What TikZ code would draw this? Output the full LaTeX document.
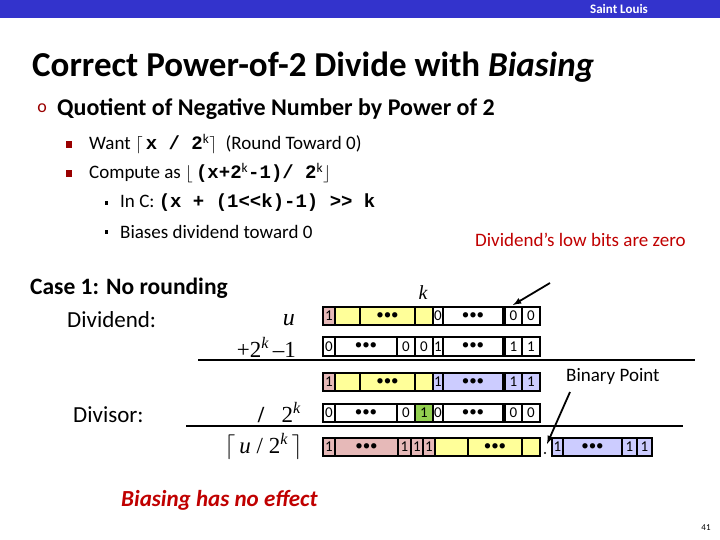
\documentclass[tikz,border=0pt]{standalone}
\usepackage{fontspec}
\setmainfont{Carlito}
\newfontfamily\monof{Liberation Mono}
\newfontfamily\serf{Liberation Serif}
\begin{document}
\definecolor{hdr}{RGB}{51,51,204}
\definecolor{pk}{RGB}{230,185,184}
\definecolor{yl}{RGB}{255,255,153}
\definecolor{bl}{RGB}{204,204,255}
\definecolor{gr}{RGB}{146,208,80}
\definecolor{dred}{RGB}{192,0,0}
\definecolor{bul}{RGB}{153,0,0}
\newcommand\bc[6]{\draw[cellb,fill=#5] (#1,#3) rectangle node[celltxt]{#6} (#2,#4);}
\begin{tikzpicture}[x=1pt,y=-1pt,
  cellb/.style={line width=1.8pt},
  celltxt/.style={font=\fontsize{15}{15}\selectfont, inner sep=0pt},
  lbl/.style={inner sep=0pt, anchor=west},
  rule/.style={line width=2.2pt}]
\useasboundingbox (0,0) rectangle (720,540);
\fill[hdr] (0,0) rectangle (720,18);
\node[inner sep=0pt,text=white,font=\bfseries\fontsize{13}{13}\selectfont] (hdrt) at (619,8.5) {Saint Louis};
\node[lbl,font=\bfseries\fontsize{35}{35}\selectfont] (title) at (32,67) {Correct Power-of-2 Divide with \textit{Biasing}};
\node[inner sep=0pt,text=bul,font=\fontsize{18}{18}\selectfont] (b0) at (42,108) {o};
\node[lbl,font=\bfseries\fontsize{24}{24}\selectfont] (q) at (57,109) {Quotient of Negative Number by Power of 2};
\fill[bul] (66,141) rectangle (72,148);
\fill[bul] (66,170) rectangle (72,177);
\node[lbl,font=\fontsize{19}{19}\selectfont] (w) at (89,144) {Want $\lceil$\,{\monof\bfseries x / 2\textsuperscript{\normalfont k}}$\rceil$ \ (Round Toward 0)};
\node[lbl,font=\fontsize{19}{19}\selectfont] (c) at (89,173) {Compute as $\lfloor$\,{\monof\bfseries (x+2\textsuperscript{\normalfont k}-1)/ 2\textsuperscript{\normalfont k}}$\rfloor$};
\fill (105,201) rectangle (108,205);
\fill (105,230) rectangle (108,234);
\node[lbl,font=\fontsize{19}{19}\selectfont] (ic) at (120,203) {In C: {\monof\bfseries (x + (1<<k)-1) >> k}};
\node[lbl,font=\fontsize{19}{19}\selectfont] (bd) at (120,232) {Biases dividend toward 0};
\node[lbl,text=dred,font=\fontsize{19}{19}\selectfont] (low) at (475,240) {Dividend’s low bits are zero};
\node[lbl,font=\bfseries\fontsize{23.5}{23.5}\selectfont] (case) at (30,288) {Case 1: No rounding};
\node[lbl,font=\fontsize{23}{23}\selectfont] (dvd) at (67,320) {Dividend:};
\node[lbl,font=\fontsize{23}{23}\selectfont] (dvs) at (73,415) {Divisor:};
\node[inner sep=0pt,anchor=east,font=\serf\itshape\fontsize{24}{24}\selectfont] (u) at (295,320) {u};
\node[inner sep=0pt,anchor=east,font=\serf\fontsize{23}{23}\selectfont] (p2k) at (296,347) {+2\textsuperscript{\itshape k}\,–1};
\node[inner sep=0pt,anchor=east,font=\serf\fontsize{23}{23}\selectfont] (d2k) at (301,413) {\textbf{/}\ \ \ 2\textsuperscript{\itshape k}};
\node[inner sep=0pt,anchor=east,font=\serf\fontsize{23}{23}\selectfont] (res) at (303,447) {$\lceil$\,\textit{u} / 2\textsuperscript{\itshape k}\,$\rceil$};
\node[inner sep=0pt,font=\serf\itshape\fontsize{20}{20}\selectfont] (k) at (423,293) {k};
\draw[rule] (198,360) -- (695,360);
\draw[rule] (186,426) -- (683,426);
% row 1
\bc{323}{335}{307}{325}{pk}{1}
\bc{335}{360}{307}{325}{yl}{}
\bc{360}{415}{307}{325}{yl}{•••}
\bc{415}{433}{307}{325}{yl}{}
\bc{433}{443}{307}{325}{white}{0}
\bc{443}{503}{307}{325}{white}{•••}
\bc{505}{522}{307}{325}{white}{0}
\bc{522}{540}{307}{325}{white}{0}
% row 2
\bc{323}{335}{337}{356}{white}{0}
\bc{335}{397}{337}{356}{white}{•••}
\bc{397}{415}{337}{356}{white}{0}
\bc{415}{433}{337}{356}{white}{0}
\bc{433}{443}{337}{356}{white}{1}
\bc{443}{503}{337}{356}{white}{•••}
\bc{505}{522}{337}{356}{white}{1}
\bc{522}{540}{337}{356}{white}{1}
% row 3
\bc{323}{335}{373}{391}{pk}{1}
\bc{335}{360}{373}{391}{yl}{}
\bc{360}{415}{373}{391}{yl}{•••}
\bc{415}{433}{373}{391}{yl}{}
\bc{433}{443}{373}{391}{bl}{1}
\bc{443}{503}{373}{391}{bl}{•••}
\bc{505}{522}{373}{391}{bl}{1}
\bc{522}{540}{373}{391}{bl}{1}
% row 4
\bc{323}{335}{404}{422}{white}{0}
\bc{335}{397}{404}{422}{white}{•••}
\bc{397}{415}{404}{422}{white}{0}
\bc{415}{433}{404}{422}{gr}{1}
\bc{433}{443}{404}{422}{white}{0}
\bc{443}{503}{404}{422}{white}{•••}
\bc{505}{522}{404}{422}{white}{0}
\bc{522}{540}{404}{422}{white}{0}
% row 5
\bc{323}{335}{438}{456}{pk}{1}
\bc{335}{398}{438}{456}{pk}{•••}
\bc{398}{411}{438}{456}{pk}{1}
\bc{411}{423}{438}{456}{pk}{1}
\bc{423}{435}{438}{456}{pk}{1}
\bc{435}{468}{438}{456}{yl}{}
\bc{468}{522}{438}{456}{yl}{•••}
\bc{522}{540}{438}{456}{yl}{}
\fill (545,453) circle (1.2);
\bc{552}{563}{438}{456}{bl}{1}
\bc{563}{622}{438}{456}{bl}{•••}
\bc{622}{637}{438}{456}{bl}{1}
\bc{637}{652}{438}{456}{bl}{1}
\node[lbl,font=\fontsize{19}{19}\selectfont] (bp) at (566,376) {Binary Point};
\coordinate (a1) at (550,283);
\coordinate (a2) at (513,305);
\draw[line width=1.8pt,-latex] (a1) -- (a2);
\coordinate (b1) at (570,392);
\coordinate (b2) at (547,444);
\draw[line width=1.8pt,-latex] (b1) -- (b2);
\node[lbl,text=dred,font=\bfseries\itshape\fontsize{23}{23}\selectfont] (bias) at (121,500) {Biasing has no effect};
\node[inner sep=0pt,font=\fontsize{9}{9}\selectfont] (pg) at (706,528) {41};
\end{tikzpicture}
\end{document}
